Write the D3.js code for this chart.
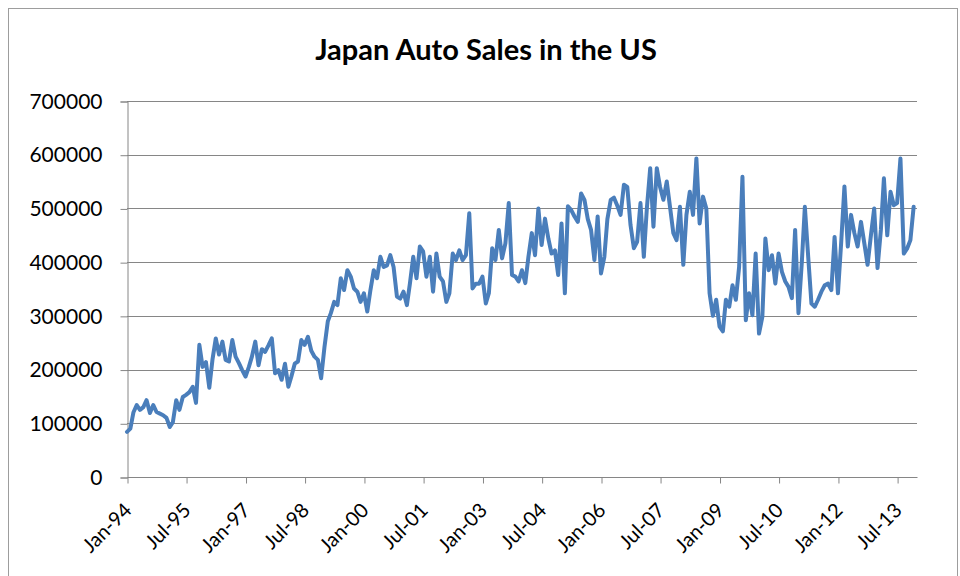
<!DOCTYPE html>
<html>
<head>
<meta charset="utf-8">
<script src="https://cdn.jsdelivr.net/npm/d3@7"></script>
<style>
  html, body { margin: 0; padding: 0; background: #fff; }
  svg { display: block; font-family: Lato, "Open Sans", sans-serif; }
</style>
</head>
<body>
<svg id="chart" width="960" height="576"></svg>
<script>
// --- data ---
const chartTitle = "Japan Auto Sales in the US";
const firstMonth = "1994-01";
const axisEnd = "2014-01";
const yTicks = [0, 100000, 200000, 300000, 400000, 500000, 600000, 700000];
const xTickLabels = ["Jan-94", "Jul-95", "Jan-97", "Jul-98", "Jan-00", "Jul-01", "Jan-03",
  "Jul-04", "Jan-06", "Jul-07", "Jan-09", "Jul-10", "Jan-12", "Jul-13"];

// monthly sales, thousands of units, Jan-94 .. Dec-13
const salesK = [
  84, 90, 120, 134, 125, 130, 143, 119, 134, 121,
  118, 115, 110, 93, 102, 143, 125, 149, 153, 158,
  168, 138, 246, 205, 214, 166, 218, 258, 228, 252,
  218, 215, 255, 224, 212, 199, 187, 205, 224, 252,
  208, 238, 233, 245, 258, 193, 199, 181, 211, 168,
  187, 211, 215, 255, 246, 261, 235, 224, 218, 184,
  242, 290, 305, 326, 320, 370, 348, 385, 373, 351,
  345, 326, 342, 308, 348, 385, 370, 410, 391, 394,
  413, 391, 336, 332, 345, 320, 360, 410, 370, 429,
  420, 373, 410, 345, 416, 373, 364, 326, 342, 416,
  404, 422, 404, 413, 491, 351, 360, 360, 373, 323,
  342, 426, 404, 460, 407, 435, 510, 376, 373, 364,
  385, 361, 410, 454, 413, 500, 432, 481, 444, 416,
  422, 376, 472, 342, 504, 497, 485, 475, 528, 516,
  480, 460, 404, 485, 379, 410, 480, 516, 520, 505,
  488, 544, 540, 469, 426, 438, 510, 410, 500, 575,
  466, 575, 540, 516, 550, 503, 454, 441, 503, 395,
  488, 531, 488, 593, 472, 522, 500, 342, 300, 330,
  280, 271, 330, 317, 357, 330, 391, 559, 292, 342,
  301, 416, 267, 298, 444, 385, 413, 360, 416, 382,
  364, 354, 333, 460, 305, 400, 503, 410, 323, 317,
  330, 345, 357, 360, 348, 447, 342, 440, 541, 429,
  488, 454, 429, 475, 435, 395, 450, 500, 389, 460,
  556, 450, 531, 506, 510, 593, 416, 425, 441, 503
];

// --- layout ---
const svg = d3.select("#chart");
const plot = { left: 127, right: 917, top: 101, bottom: 477 };

const parseMonth = d3.timeParse("%Y-%m");
const parseLabel = d3.timeParse("%b-%y");
const start = parseMonth(firstMonth);

const series = salesK.map((v, i) => ({ date: d3.timeMonth.offset(start, i), value: v * 1000 }));

const x = d3.scaleTime()
  .domain([start, parseMonth(axisEnd)])
  .range([plot.left, plot.right]);

const y = d3.scaleLinear()
  .domain([0, 700000])
  .range([plot.bottom, plot.top]);

// outer chart border
svg.append("rect")
  .attr("x", 8.5).attr("y", 8.5)
  .attr("width", 949).attr("height", 600)
  .attr("fill", "none")
  .attr("stroke", "#9d9d9d");

// title
svg.append("text")
  .attr("x", 486).attr("y", 60)
  .attr("text-anchor", "middle")
  .attr("font-size", 29)
  .attr("font-weight", "bold")
  .attr("fill", "#000")
  .text(chartTitle);

// gridlines
svg.append("g")
  .selectAll("line")
  .data(yTicks.filter(d => d > 0))
  .join("line")
  .attr("x1", plot.left).attr("x2", plot.right)
  .attr("y1", d => Math.round(y(d)) + 0.5)
  .attr("y2", d => Math.round(y(d)) + 0.5)
  .attr("stroke", "#868686");

// y axis
const yAxis = svg.append("g")
  .attr("transform", `translate(${plot.left + 0.5},0.5)`)
  .call(d3.axisLeft(y).tickValues(yTicks).tickFormat(d3.format("d")).tickSize(7).tickPadding(18));
yAxis.select(".domain").attr("stroke", "#868686");
yAxis.selectAll(".tick line").attr("stroke", "#868686");
yAxis.selectAll(".tick text")
  .attr("font-size", 21)
  .attr("font-family", "Lato, 'Open Sans', sans-serif")
  .attr("fill", "#000");

// x axis
const xAxis = svg.append("g")
  .attr("transform", `translate(0.5,${plot.bottom + 0.5})`)
  .call(d3.axisBottom(x)
    .tickValues(xTickLabels.map(parseLabel))
    .tickFormat(d3.timeFormat("%b-%y"))
    .tickSize(6)
    .tickSizeOuter(0));
xAxis.select(".domain").attr("stroke", "#868686").attr("d", `M${plot.left},0H${plot.right}`);
xAxis.selectAll(".tick line").attr("stroke", "#868686");
xAxis.selectAll(".tick text")
  .attr("font-size", 20)
  .attr("font-family", "Lato, 'Open Sans', sans-serif")
  .attr("fill", "#000")
  .attr("text-anchor", "end")
  .attr("dy", null)
  .attr("y", 0)
  .attr("transform", "translate(5,34) rotate(-45)");

// sales line
svg.append("path")
  .datum(series)
  .attr("fill", "none")
  .attr("stroke", "#4a7ebb")
  .attr("stroke-width", 4)
  .attr("stroke-linejoin", "round")
  .attr("stroke-linecap", "round")
  .attr("d", d3.line().x(d => x(d.date)).y(d => y(d.value)));
</script>
</body>
</html>
